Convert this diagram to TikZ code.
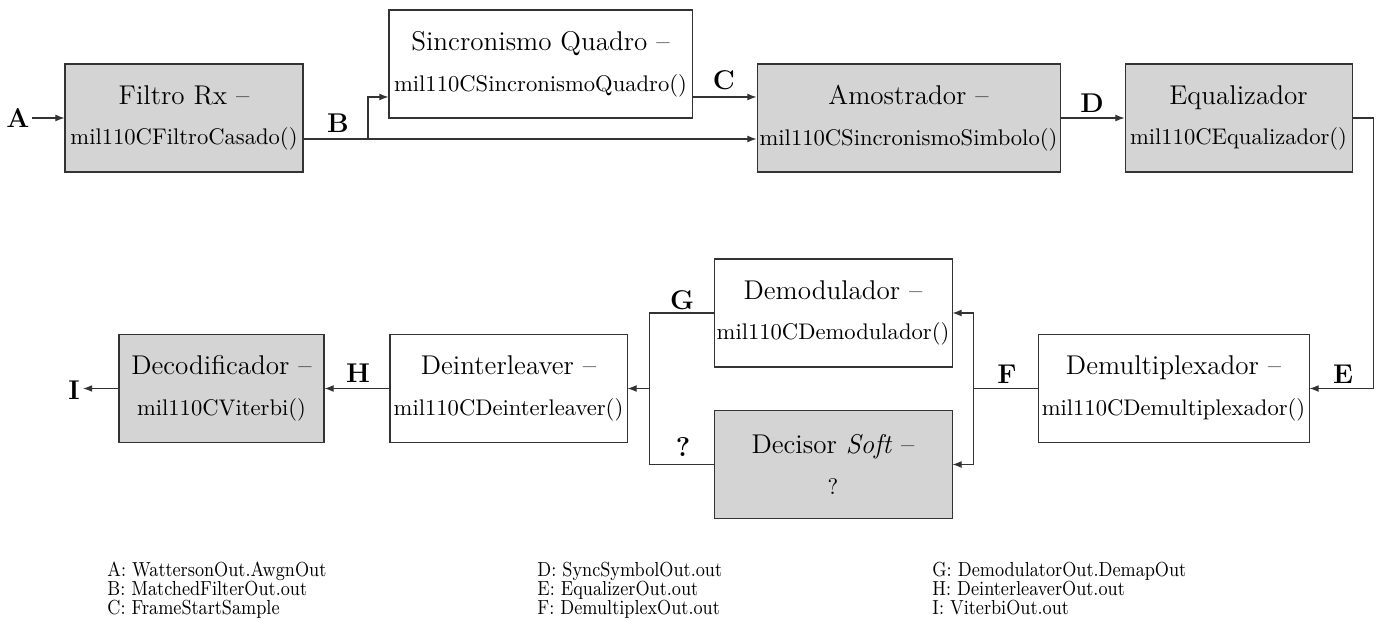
\documentclass[tikz,border=0pt]{standalone}
\usetikzlibrary{arrows.meta}
\def\pxu{0.4425pt}
\newcommand{\legtxt}[1]{\scalebox{0.87}[1]{#1}}
\begin{document}
\begin{tikzpicture}[x=0.4425pt,y=-0.4425pt,
  blk/.style={draw=black!80, line width=0.45pt, rectangle, align=center, inner sep=0pt, fill=white},
  shaded/.style={blk, fill=black!17},
  lbl/.style={font=\large\bfseries, inner sep=0pt},
  leg/.style={font=\small, anchor=base west, inner sep=0pt},
  conn/.style={draw=black!80, line width=0.45pt, -{Latex[length=4pt,width=3pt]}},
  wire/.style={draw=black!80, line width=0.45pt}]
\useasboundingbox (0,0) rectangle (1378,637);

% boxes
\node[shaded, minimum width=238*\pxu, minimum height=108*\pxu] (filtro) at (184,118)
  {{\large Filtro Rx \textendash}\\[6pt]mil110CFiltroCasado()};
\node[blk, minimum width=303*\pxu, minimum height=108*\pxu] (sincq) at (540.5,64)
  {{\large Sincronismo Quadro \textendash}\\[6pt]mil110CSincronismoQuadro()};
\node[shaded, minimum width=303*\pxu, minimum height=108*\pxu] (amost) at (908.5,118)
  {{\large Amostrador \textendash}\\[6pt]mil110CSincronismoSimbolo()};
\node[shaded, minimum width=227*\pxu, minimum height=108*\pxu] (equal) at (1238.5,118)
  {{\large Equalizador}\\[6pt]mil110CEqualizador()};
\node[blk, minimum width=271*\pxu, minimum height=108*\pxu] (demux) at (1173.5,388.5)
  {{\large Demultiplexador \textendash}\\[6pt]mil110CDemultiplexador()};
\node[blk, minimum width=238*\pxu, minimum height=108*\pxu] (demod) at (833,313)
  {{\large Demodulador \textendash}\\[6pt]mil110CDemodulador()};
\node[shaded, minimum width=238*\pxu, minimum height=108*\pxu] (decisor) at (833,464.5)
  {{\large Decisor \textit{Soft} \textendash}\\[6pt]?};
\node[blk, minimum width=237*\pxu, minimum height=108*\pxu] (deint) at (508.5,388.5)
  {{\large Deinterleaver \textendash}\\[6pt]mil110CDeinterleaver()};
\node[shaded, minimum width=205*\pxu, minimum height=108*\pxu] (decod) at (221.5,388.5)
  {{\large Decodificador \textendash}\\[6pt]mil110CViterbi()};

% labels
\node[lbl] (la) at (18,118) {A};
\node[lbl] (lb) at (338,123) {B};
\node[lbl] (lc) at (724,80) {C};
\node[lbl] (ld) at (1092,103) {D};
\node[lbl] (le) at (1343,374) {E};
\node[lbl] (lf) at (1007,374) {F};
\node[lbl] (lg) at (682,300) {G};
\node[lbl] (lq) at (683,447) {?};
\node[lbl] (lh) at (358,373) {H};
\node[lbl] (li) at (74,390) {I};

% junction coordinates
\coordinate (bsplit) at (368,139);
\coordinate (ecorner1) at (1373,118);
\coordinate (ecorner2) at (1373,388.5);
\coordinate (fjoin) at (973,388.5);
\coordinate (gjoin) at (649,388.5);

% connectors
\draw[conn] (la.east) ++(2,0) -- (filtro.west);
\draw[conn] ([yshift=-21*\pxu]filtro.east) -- ([yshift=-21*\pxu]amost.west);
\draw[conn] (bsplit) |- ([yshift=-33*\pxu]sincq.west);
\draw[conn] ([yshift=-33*\pxu]sincq.east) -- ([yshift=21*\pxu]amost.west);
\draw[conn] (amost.east) -- (equal.west);
\draw[conn] (equal.east) -- (ecorner1) -- (ecorner2) -- (demux.east);
\draw[wire] (demux.west) -- (fjoin);
\draw[conn] (fjoin) |- (demod.east);
\draw[conn] (fjoin) |- (decisor.east);
\draw[wire] (demod.west) -| (gjoin);
\draw[wire] (decisor.west) -| (gjoin);
\draw[conn] (gjoin) -- (deint.east);
\draw[conn] (deint.west) -- (decod.east);
\draw[conn] (decod.west) -- ([xshift=3*\pxu]li.east |- decod.west);

% legend
\node[leg] (ga) at (107,576) {\legtxt{A: WattersonOut.AwgnOut}};
\node[leg] (gb) at (107,595) {\legtxt{B: MatchedFilterOut.out}};
\node[leg] (gc) at (107,614) {\legtxt{C: FrameStartSample}};
\node[leg] (gd) at (537,576) {\legtxt{D: SyncSymbolOut.out}};
\node[leg] (ge) at (537,595) {\legtxt{E: EqualizerOut.out}};
\node[leg] (gf) at (537,614) {\legtxt{F: DemultiplexOut.out}};
\node[leg] (gg) at (932,576) {\legtxt{G: DemodulatorOut.DemapOut}};
\node[leg] (gh) at (932,595) {\legtxt{H: DeinterleaverOut.out}};
\node[leg] (gi) at (932,614) {\legtxt{I: ViterbiOut.out}};
\end{tikzpicture}
\end{document}
